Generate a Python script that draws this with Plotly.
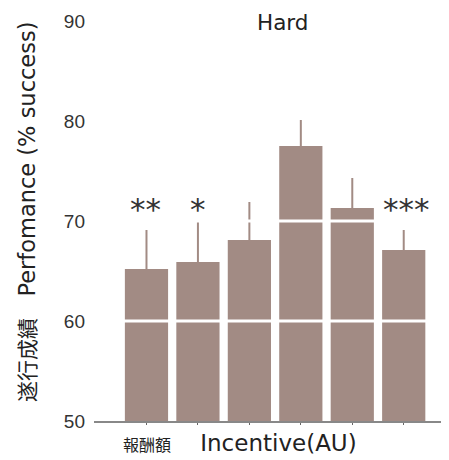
import plotly.graph_objects as go

categories = ["1", "2", "3", "4", "5", "6"]
performance = [65.2, 65.9, 68.1, 77.5, 71.3, 67.1]
error_plus = [3.9, 4.0, 3.8, 2.6, 3.0, 2.0]
significance = ["**", "*", "", "", "", "***"]
y_ticks = [50, 60, 70, 80, 90]

BAR = "rgb(162,139,132)"
OFF = 8  # page body margin
W, H = 449 - OFF, 460 - OFF
PL, PR, PT, PB = 94, 449, 21, 421  # plot area in window pixels
L, T = PL - OFF, PT - OFF
R, B = 0, H - (PB - OFF)

def px(x):
    return (x - PL) / (PR - PL)

def py(y):
    return (PB - y) / (PB - PT)

fig = go.Figure()
fig.add_trace(go.Bar(
    x=list(range(len(categories))), y=performance,
    width=0.84,
    marker=dict(color=BAR, line=dict(width=0)),
    error_y=dict(type="data", array=error_plus, arrayminus=[0]*len(categories),
                 symmetric=False, color=BAR, thickness=2, width=0),
    showlegend=False,
))

shifts = [-1, 0, 0, 0, 0, 3]
for i, s in enumerate(significance):
    if s:
        fig.add_annotation(x=i, y=71.25, xref="x", yref="y", text=s, showarrow=False,
                           xshift=shifts[i],
                           font=dict(family="DejaVu Sans", size=31, color="#333333"),
                           yanchor="middle")

for g in [60, 70]:
    fig.add_shape(type="line", xref="paper", yref="y", x0=0, x1=1, y0=g, y1=g,
                  line=dict(color="white", width=3), layer="above")

fig.add_annotation(x=px(282), y=py(22.5), xref="paper", yref="paper", text="Hard",
                   showarrow=False, font=dict(family="DejaVu Sans", size=21.5, color="#222222"),
                   xanchor="center", yanchor="middle")

fig.add_annotation(x=px(240), y=py(443), xref="paper", yref="paper",
                   text="<span style='font-family:Noto Sans CJK JP;font-size:16px'>報酬額</span>&nbsp;&nbsp;&nbsp;&nbsp;Incentive(AU)",
                   showarrow=False, font=dict(family="DejaVu Sans", size=23, color="#222222"),
                   xanchor="center", yanchor="middle")

fig.add_annotation(x=px(25.5), y=py(212.5), xref="paper", yref="paper", textangle=-90,
                   text="<span style='font-family:Noto Sans CJK JP;font-size:21px'>遂行成績</span>&nbsp;&nbsp;&nbsp;Perfomance (% success)",
                   showarrow=False, font=dict(family="DejaVu Sans", size=22.5, color="#222222"),
                   xanchor="center", yanchor="middle")

fig.update_layout(
    width=W, height=H,
    margin=dict(l=L, r=R, t=T, b=B, pad=0),
    plot_bgcolor="white", paper_bgcolor="white",
    xaxis=dict(range=[-1.02, 5.88], showgrid=False, zeroline=False,
               showline=True, linecolor="#888888", linewidth=2,
               ticks="outside", ticklen=2, tickcolor="#666666", tickwidth=1,
               tickvals=list(range(len(categories))), showticklabels=False),
    yaxis=dict(range=[50, 90], showgrid=False, zeroline=False, showline=False,
               tickvals=y_ticks, ticks="", ticklabelstandoff=8,
               tickfont=dict(family="Liberation Sans", size=19, color="#333333")),
)

fig.write_html("out.html")
